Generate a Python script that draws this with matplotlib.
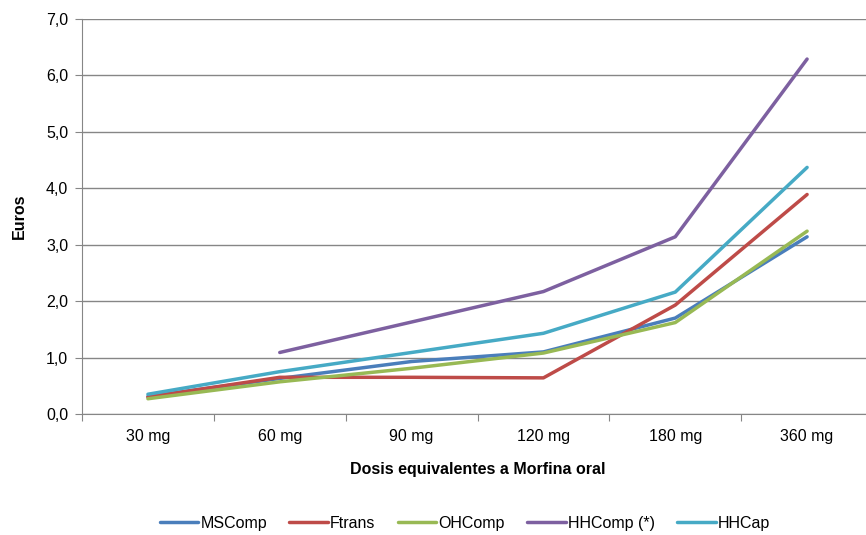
import matplotlib.pyplot as plt
from matplotlib.ticker import FuncFormatter

plt.rcParams["font.family"] = ["Liberation Sans", "DejaVu Sans"]

doses = ["30 mg", "60 mg", "90 mg", "120 mg", "180 mg", "360 mg"]
ms_comp = [0.31, 0.63, 0.93, 1.10, 1.70, 3.14]
ftrans = [0.30, 0.65, 0.65, 0.64, 1.93, 3.89]
oh_comp = [0.27, 0.57, 0.81, 1.08, 1.62, 3.24]
hh_comp = [None, 1.09, 1.63, 2.17, 3.14, 6.29]
hh_cap = [0.35, 0.75, 1.09, 1.43, 2.16, 4.37]

series = [
    ("MSComp", ms_comp, "#4A7EBB"),
    ("Ftrans", ftrans, "#BE4B48"),
    ("OHComp", oh_comp, "#98B954"),
    ("HHComp (*)", hh_comp, "#7D60A0"),
    ("HHCap", hh_cap, "#46AAC5"),
]

fs = 11.5

fig = plt.figure(figsize=(8.66, 5.35), dpi=100)
ax = fig.add_axes([0.0947, 0.2262, 0.9134, 0.7383])

xs = range(len(doses))
for name, vals, col in series:
    pts = [(x, v) for x, v in zip(xs, vals) if v is not None]
    ax.plot([p[0] for p in pts], [p[1] for p in pts], color=col, lw=2.5,
            label=name, solid_capstyle="round")

ax.set_xlim(-0.5, len(doses) - 0.5)
ax.set_ylim(0, 7)
ax.set_yticks(range(8))
ax.yaxis.set_major_formatter(FuncFormatter(lambda v, p: f"{v:.1f}".replace(".", ",")))
ax.grid(axis="y", color="#868686", lw=1)
ax.set_axisbelow(True)

# ticks between categories, labels centred
ax.set_xticks([i - 0.5 for i in range(len(doses) + 1)])
ax.set_xticklabels([])
ax.set_xticks(list(xs), minor=True)
ax.set_xticklabels(doses, minor=True)
ax.tick_params(axis="x", which="major", length=5, color="#868686", direction="out")
ax.tick_params(axis="x", which="minor", length=0, pad=11, labelsize=fs)
ax.tick_params(axis="y", length=5, color="#868686", labelsize=fs, pad=5)

for s in ["top", "right"]:
    ax.spines[s].set_visible(False)
for s in ["left", "bottom"]:
    ax.spines[s].set_color("#868686")

ax.set_xlabel("Dosis equivalentes a Morfina oral", fontweight="bold", fontsize=fs, labelpad=13)
ax.set_ylabel("Euros", fontweight="bold", fontsize=fs, labelpad=14)

fig.legend(loc="center", bbox_to_anchor=(0.537, 0.022), ncol=5, frameon=False,
           fontsize=fs, handlelength=2.4, columnspacing=1.4, handletextpad=0.15)

fig.savefig("out.png", dpi=100)
